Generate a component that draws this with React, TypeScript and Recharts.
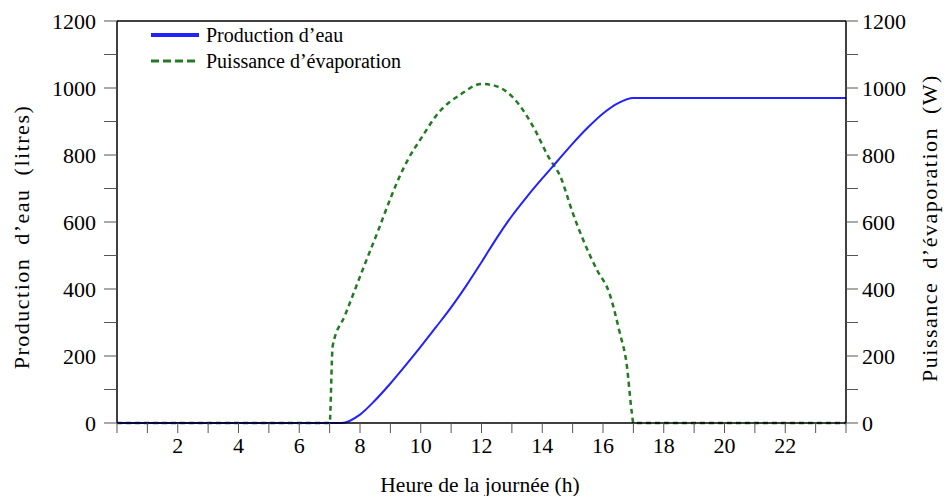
import React from "react";
import { LineChart, Line, XAxis, YAxis, ReferenceLine } from "recharts";

// Production d'eau (litres), axe de gauche
const productionHours = [0, 2, 4, 6, 7, 7.4, 8, 8.5, 9, 9.5, 10, 10.5, 11, 11.5, 12, 12.5, 13, 13.5, 14, 14.5, 15, 15.5, 16, 16.5, 17, 18, 20, 22, 24];
const productionLitres = [0, 0, 0, 0, 0, 0, 25, 68, 118, 172, 228, 286, 345, 410, 480, 552, 618, 676, 730, 782, 834, 882, 924, 955, 970, 970, 970, 970, 970];

// Puissance d'évaporation (W), axe de droite
const powerHours = [0, 2, 4, 6, 7, 7.1, 7.5, 8.15, 8.6, 9, 9.3, 9.6, 10, 10.6, 11.3, 12, 12.5, 13, 13.7, 14.2, 14.6, 15, 15.35, 15.8, 16.2, 16.55, 16.78, 16.95, 17, 18, 20, 22, 24];
const powerWatts = [0, 0, 0, 0, 0, 230, 320, 472, 575, 670, 735, 790, 848, 928, 980, 1012, 1005, 975, 885, 795, 735, 628, 546, 457, 390, 270, 175, 30, 0, 0, 0, 0, 0];

const hourTicks = [0, 1, 2, 3, 4, 5, 6, 7, 8, 9, 10, 11, 12, 13, 14, 15, 16, 17, 18, 19, 20, 21, 22, 23, 24];
const valueTicks = [0, 100, 200, 300, 400, 500, 600, 700, 800, 900, 1000, 1100, 1200];

const productionData = productionHours.map((h, i) => ({ h, v: productionLitres[i] }));
const powerData = powerHours.map((h, i) => ({ h, v: powerWatts[i] }));

const FONT = "'Liberation Serif', 'Times New Roman', serif";
const BLUE = "#2222ff";
const GREEN = "#227a22";

const hourLabel = (v: number) => (v % 2 === 0 && v > 0 && v < 24 ? String(v) : "");
const valueLabel = (v: number) => (v % 200 === 0 ? String(v) : "");

function LegendBox() {
  const rows = [
    { name: "Production d\u2019eau", color: BLUE, dash: undefined },
    { name: "Puissance d\u2019\u00e9vaporation", color: GREEN, dash: "8 4" },
  ];
  return (
    <div style={{ position: "absolute", left: 150, top: 22, fontFamily: FONT, fontSize: 20, lineHeight: "26px" }}>
      {rows.map((r) => (
        <div key={r.name} style={{ display: "flex", alignItems: "center", height: 26 }}>
          <svg width={50} height={10} style={{ marginRight: 6 }}>
            <line x1={1} y1={5} x2={49} y2={5} stroke={r.color} strokeWidth={r.dash ? 3 : 4} strokeDasharray={r.dash} />
          </svg>
          <span>{r.name}</span>
        </div>
      ))}
    </div>
  );
}

export default function App() {
  return (
    <div style={{ position: "absolute", left: 0, top: 0, width: 951, height: 496, background: "#fff" }}>
      <LineChart width={951} height={496} margin={{ top: 21, right: 0, bottom: 0, left: 0 }}>
        <XAxis
          dataKey="h"
          type="number"
          domain={[0, 24]}
          ticks={hourTicks}
          interval={0}
          tickFormatter={hourLabel}
          tickSize={10}
          tickMargin={4}
          height={73}
          allowDuplicatedCategory={false}
          axisLine={{ stroke: "#000", strokeWidth: 1.5 }}
          tickLine={{ stroke: "#555" }}
          tick={{ fill: "#000", fontFamily: FONT, fontSize: 22 }}
          label={{
            content: () => (
              <text x={480} y={492} textAnchor="middle" fontFamily={FONT} fontSize={21.5} fill="#000">
                Heure de la journée (h)
              </text>
            ),
          }}
        />
        <YAxis
          yAxisId="left"
          type="number"
          domain={[0, 1200]}
          ticks={valueTicks}
          interval={0}
          tickFormatter={valueLabel}
          tickSize={13}
          tickMargin={8}
          width={117}
          axisLine={{ stroke: "#000", strokeWidth: 1.5 }}
          tickLine={{ stroke: "#555" }}
          tick={{ fill: "#000", fontFamily: FONT, fontSize: 22 }}
          label={{
            content: () => (
              <text
                x={29}
                y={237}
                transform="rotate(-90 29 237)"
                textAnchor="middle"
                fontFamily={FONT}
                fontSize={22}
                letterSpacing={1.5}
                wordSpacing={6}
                fill="#000"
              >
                Production d’eau (litres)
              </text>
            ),
          }}
        />
        <YAxis
          yAxisId="right"
          orientation="right"
          type="number"
          domain={[0, 1200]}
          ticks={valueTicks}
          interval={0}
          tickFormatter={valueLabel}
          tickSize={12}
          tickMargin={4}
          width={105}
          axisLine={{ stroke: "#000", strokeWidth: 1.5 }}
          tickLine={{ stroke: "#555" }}
          tick={{ fill: "#000", fontFamily: FONT, fontSize: 22 }}
          label={{
            content: () => (
              <text
                x={937}
                y={228}
                transform="rotate(-90 937 228)"
                textAnchor="middle"
                fontFamily={FONT}
                fontSize={22}
                letterSpacing={1.5}
                wordSpacing={6}
                fill="#000"
              >
                Puissance d’évaporation (W)
              </text>
            ),
          }}
        />
        <ReferenceLine yAxisId="left" y={1200} stroke="#000" strokeWidth={1.5} />
        <Line
          yAxisId="right"
          data={powerData}
          dataKey="v"
          type="monotone"
          stroke={GREEN}
          strokeWidth={2.5}
          strokeDasharray="5 4"
          dot={false}
          isAnimationActive={false}
        />
        <Line
          yAxisId="left"
          data={productionData}
          dataKey="v"
          type="monotone"
          stroke={BLUE}
          strokeWidth={2}
          dot={false}
          isAnimationActive={false}
        />
      </LineChart>
      <LegendBox />
    </div>
  );
}
